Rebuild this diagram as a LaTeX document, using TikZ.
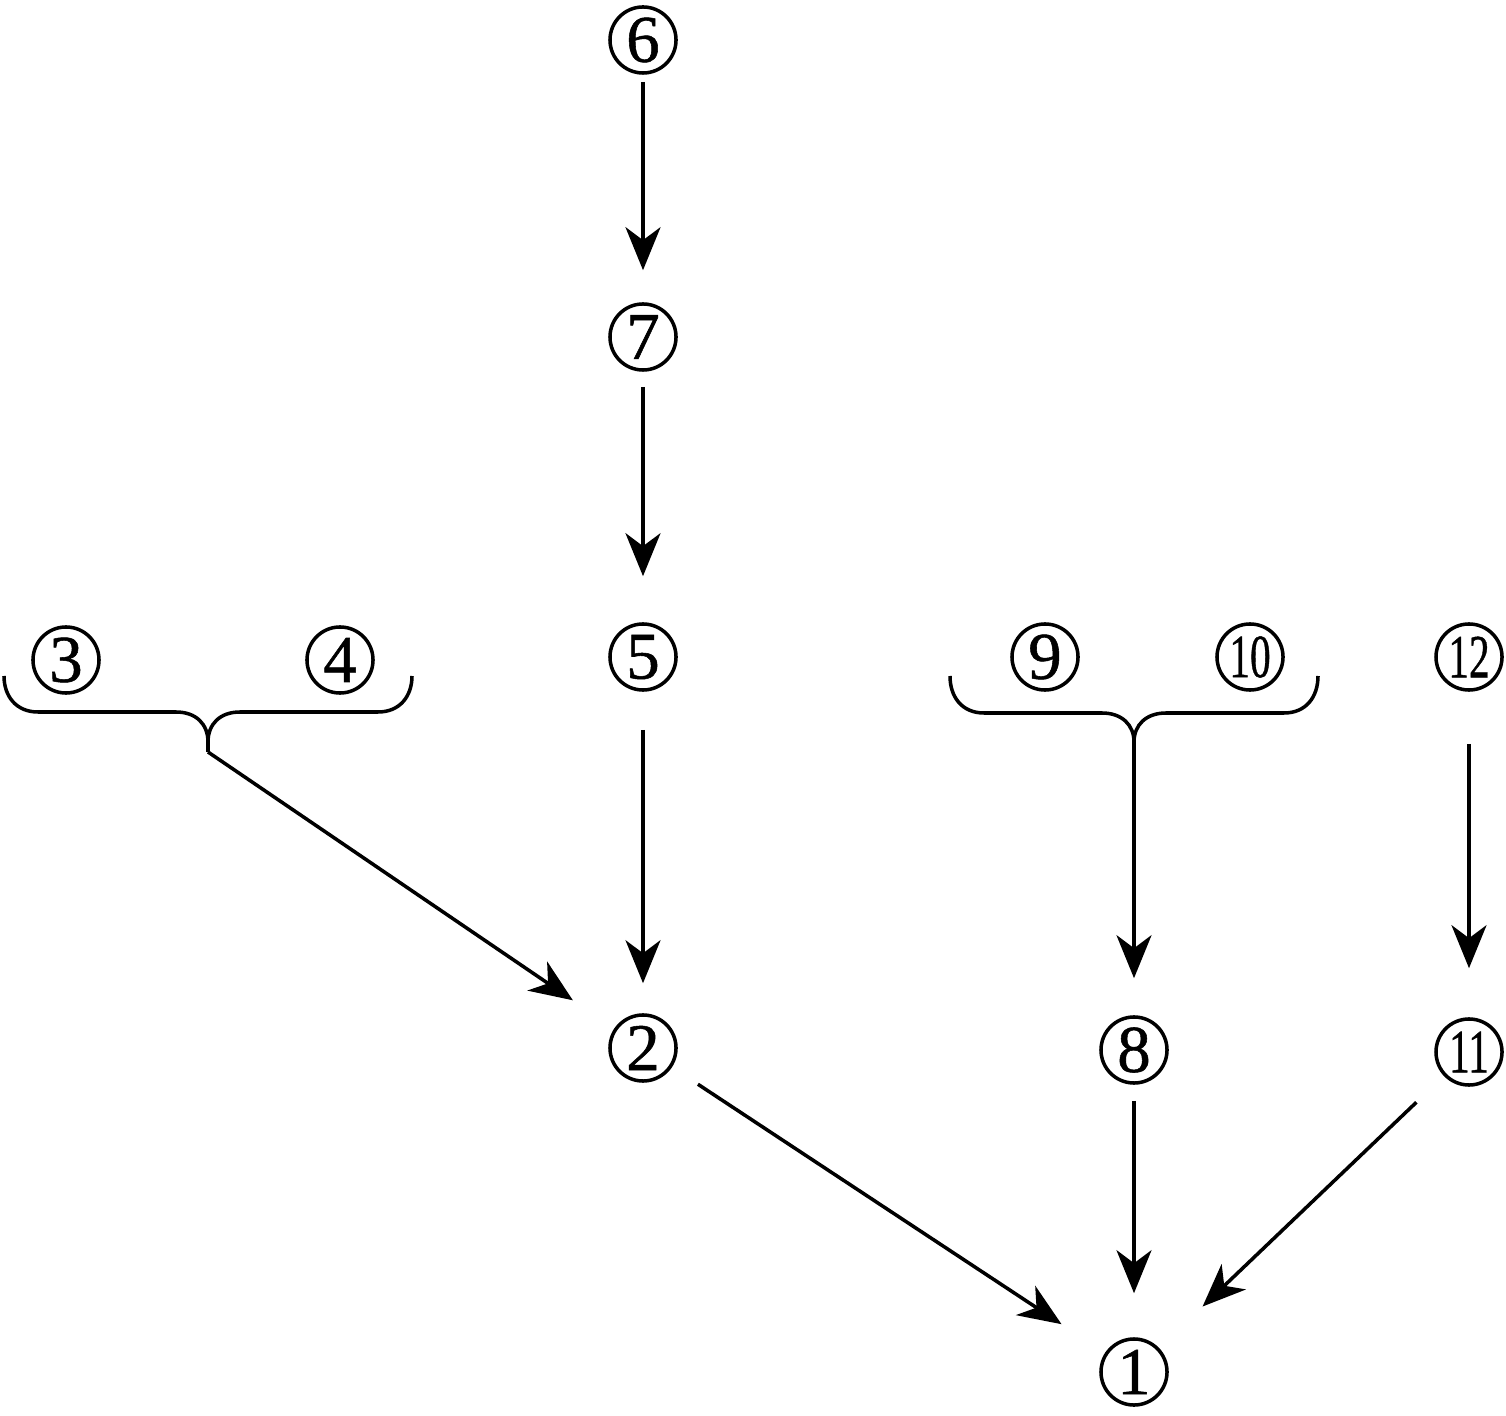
\documentclass[tikz,border=0pt]{standalone}
\usepackage{fontspec}
\setmainfont{Liberation Serif}
\newfontfamily\numfont{Liberation Serif}[FakeBold=0.8]
\usetikzlibrary{arrows.meta}
\begin{document}
\begin{tikzpicture}[x=0.01cm,y=-0.01cm,
  num/.style={circle,draw,line width=1pt,minimum size=0.66cm,inner sep=0pt,font=\numfont\fontsize{19}{21}\selectfont},
  conn/.style={line width=1pt,-{Stealth[length=4.3mm,width=3.5mm,inset=1.3mm]}},
  bracepath/.style={line width=1pt}]
\useasboundingbox (0,0) rectangle (1506,1416);
\newcommand{\twodig}[1]{\scalebox{0.62}[0.92]{#1}}
\node[num] (n6) at (643,40) {6};
\node[num] (n7) at (643,337) {7};
\node[num] (n5) at (643,657) {5};
\node[num] (n3) at (66,660) {3};
\node[num] (n4) at (340,660) {4};
\node[num] (n9) at (1045,657) {9};
\node[num] (n10) at (1250,657) {\twodig{10}};
\node[num] (n12) at (1469,657) {\twodig{12}};
\node[num] (n2) at (643,1048) {2};
\node[num] (n8) at (1134,1050) {8};
\node[num] (n11) at (1469,1052) {\twodig{11}};
\node[num] (n1) at (1134,1372) {1};
% braces
\coordinate (c34) at (208,752);
\coordinate (c910) at (1134,742);
\draw[bracepath] (4,676) .. controls (4,696) and (16,712) .. (38,712) -- (176,712)
  .. controls (196,712) and (208,724) .. (208,742) -- (c34);
\draw[bracepath] (208,742) .. controls (208,724) and (220,712) .. (240,712) -- (378,712)
  .. controls (400,712) and (412,696) .. (412,676);
\draw[bracepath] (950,676) .. controls (950,697) and (962,713) .. (984,713) -- (1102,713)
  .. controls (1122,713) and (1134,725) .. (c910);
\draw[bracepath] (c910) .. controls (1134,725) and (1146,713) .. (1166,713) -- (1284,713)
  .. controls (1306,713) and (1318,697) .. (1318,676);
% connectors
\draw[conn,shorten <=0.7mm,shorten >=3.2mm] (n6) -- (n7);
\draw[conn,shorten <=1.5mm,shorten >=4.6mm] (n7) -- (n5);
\draw[conn,shorten <=3.8mm,shorten >=3mm] (n5) -- (n2);
\draw[conn,shorten >=5mm] (c34) -- (n2);
\draw[conn,shorten <=3.1mm,shorten >=5.2mm] (n2) -- (n1);
\draw[conn,shorten >=3.7mm] (c910) -- (n8);
\draw[conn,shorten <=5.2mm,shorten >=4.9mm] (n12) -- (n11);
\draw[conn,shorten <=1.6mm,shorten >=4.4mm] (n8) -- (n1);
\draw[conn,shorten <=3.8mm,shorten >=6mm] (n11) -- (n1);
\end{tikzpicture}
\end{document}
